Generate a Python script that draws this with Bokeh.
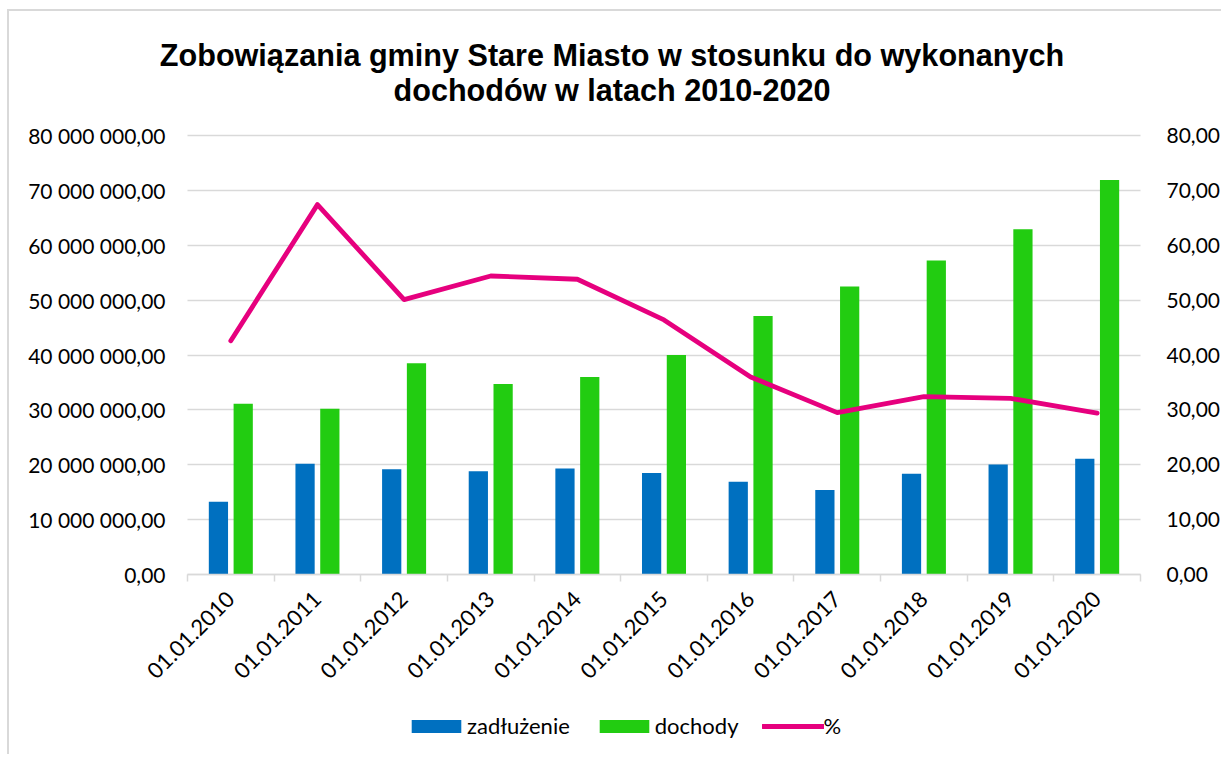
import math
from bokeh.plotting import figure
from bokeh.models import (Range1d, LinearAxis, FixedTicker, Legend, LegendItem,
                          Label, ColumnDataSource)
from bokeh.transform import dodge
from bokeh.embed import file_html
from bokeh.resources import INLINE

# ---------------- data ----------------
years = ["01.01.2010", "01.01.2011", "01.01.2012", "01.01.2013", "01.01.2014",
         "01.01.2015", "01.01.2016", "01.01.2017", "01.01.2018", "01.01.2019",
         "01.01.2020"]
zadluzenie = [13.25e6, 20.2e6, 19.2e6, 18.8e6, 19.3e6, 18.5e6,
              16.9e6, 15.4e6, 18.35e6, 20.05e6, 21.1e6]
dochody = [31.1e6, 30.2e6, 38.5e6, 34.7e6, 36.0e6, 40.0e6,
           47.1e6, 52.5e6, 57.2e6, 62.9e6, 71.9e6]
procent = [42.6, 67.4, 50.1, 54.4, 53.8, 46.4, 36.0, 29.5, 32.4, 32.1, 29.4]

left_ticks = [0, 10e6, 20e6, 30e6, 40e6, 50e6, 60e6, 70e6, 80e6]
left_tick_labels = ["0,00", "10 000 000,00", "20 000 000,00", "30 000 000,00",
                    "40 000 000,00", "50 000 000,00", "60 000 000,00",
                    "70 000 000,00", "80 000 000,00"]
right_ticks = [0, 10, 20, 30, 40, 50, 60, 70, 80]
right_tick_labels = ["0,00", "10,00", "20,00", "30,00", "40,00", "50,00",
                     "60,00", "70,00", "80,00"]

title_lines = ["Zobowiązania gminy Stare Miasto w stosunku do wykonanych",
               "dochodów w latach 2010-2020"]
series_names = ["zadłużenie", "dochody", "%"]

# ---------------- styling / layout ----------------
BLUE = "#0070C0"
GREEN = "#22CC11"
MAGENTA = "#E6007E"
GRID = "#D9D9D9"
FONT = "Lato"
TXT = "#000000"

W, H = 1214, 745
PLOT_L, PLOT_R = 178, 1131     # canvas px of the category area
PLOT_T, PLOT_B = 124, 563      # canvas px of 80 and 0
n = len(years)
ux = (PLOT_R - PLOT_L) / n
uy_main = 80e6 / (PLOT_B - PLOT_T)
uy_pct = 80 / (PLOT_B - PLOT_T)

centers = [i + 0.5 for i in range(n)]
src = ColumnDataSource(dict(pos=centers, cat=years, zad=zadluzenie,
                            doch=dochody, pct=procent))

p = figure(width=W, height=H, output_backend="svg", toolbar_location=None,
           x_range=Range1d(-PLOT_L / ux, n + (W - PLOT_R) / ux),
           y_range=Range1d(-(H - PLOT_B) * uy_main, 80e6 + PLOT_T * uy_main),
           x_axis_location=None, y_axis_location=None, min_border=0,
           background_fill_color="white", border_fill_color="white")
p.margin = (9, 0, 0, 7)
p.styles = {"border-left": "2px solid #D9D9D9", "border-top": "2px solid #D9D9D9"}
p.outline_line_color = None
p.xgrid.visible = False
p.ygrid.visible = False
p.extra_y_ranges = {"pct": Range1d(-(H - PLOT_B) * uy_pct, 80 + PLOT_T * uy_pct)}

# left value axis; its inward ticks act as the horizontal gridlines
ya = LinearAxis(fixed_location=0, ticker=FixedTicker(ticks=left_ticks))
ya.level = "underlay"
ya.major_label_overrides = {t: l for t, l in zip(left_ticks, left_tick_labels)}
ya.axis_line_color = None
ya.minor_tick_line_color = None
ya.major_tick_line_color = GRID
ya.major_tick_line_width = 1.5
ya.major_tick_in = PLOT_R - PLOT_L
ya.major_tick_out = 0
ya.major_label_standoff = 22
ya.major_label_text_font = FONT
ya.major_label_text_font_size = "21px"
ya.major_label_text_color = TXT
p.add_layout(ya, "left")

r_zad = p.vbar(x=dodge("pos", -0.143), top="zad", width=0.222, source=src,
               fill_color=BLUE, line_color=None)
r_doch = p.vbar(x=dodge("pos", 0.143), top="doch", width=0.222, source=src,
                fill_color=GREEN, line_color=None)
r_pct = p.line(x="pos", y="pct", source=src, y_range_name="pct",
               line_color=MAGENTA, line_width=4.8, line_cap="round",
               line_join="round")

# right axis (percent)
ra = LinearAxis(y_range_name="pct", fixed_location=n,
                ticker=FixedTicker(ticks=right_ticks))
ra.major_label_overrides = {t: l for t, l in zip(right_ticks, right_tick_labels)}
ra.axis_line_color = None
ra.major_tick_line_color = None
ra.minor_tick_line_color = None
ra.major_tick_out = 0
ra.major_tick_in = 0
ra.major_label_standoff = 26
ra.major_label_text_font = FONT
ra.major_label_text_font_size = "21px"
ra.major_label_text_color = TXT
p.add_layout(ra, "right")

# bottom (category) axis on the zero line
xa = LinearAxis(fixed_location=0, bounds=(0, n),
                ticker=FixedTicker(ticks=centers, minor_ticks=list(range(n + 1))))
xa.major_label_overrides = {c: y for c, y in zip(centers, years)}
xa.axis_line_color = GRID
xa.axis_line_width = 1.5
xa.major_tick_line_color = None
xa.major_tick_out = 0
xa.major_tick_in = 0
xa.minor_tick_line_color = GRID
xa.minor_tick_line_width = 1.5
xa.minor_tick_out = 7
xa.minor_tick_in = 0
xa.major_label_orientation = math.pi / 4
xa.major_label_standoff = 14
xa.major_label_text_font = FONT
xa.major_label_text_font_size = "22px"
xa.major_label_text_color = TXT
p.add_layout(xa, "below")

# title (two lines)
title_x = (602.5 - PLOT_L) / ux
for txt, dy in zip(title_lines, [81, 46]):
    p.add_layout(Label(x=title_x, y=80e6 + dy * uy_main, text=txt,
                       text_align="center", text_baseline="middle",
                       text_font="Liberation Sans", text_font_style="bold",
                       text_font_size="30.6px", text_color=TXT))

# legend
legend = Legend(items=[LegendItem(label=series_names[0], renderers=[r_zad]),
                       LegendItem(label=series_names[1], renderers=[r_doch]),
                       LegendItem(label=series_names[2], renderers=[r_pct])],
                orientation="horizontal", location=(396, 17),
                glyph_width=62, glyph_height=16, label_standoff=0, spacing=23,
                padding=0, margin=0, border_line_color=None,
                background_fill_alpha=0, label_text_font=FONT,
                label_text_font_size="22px", label_text_color=TXT)
p.add_layout(legend)

open("out.html", "w").write(file_html(p, INLINE))
